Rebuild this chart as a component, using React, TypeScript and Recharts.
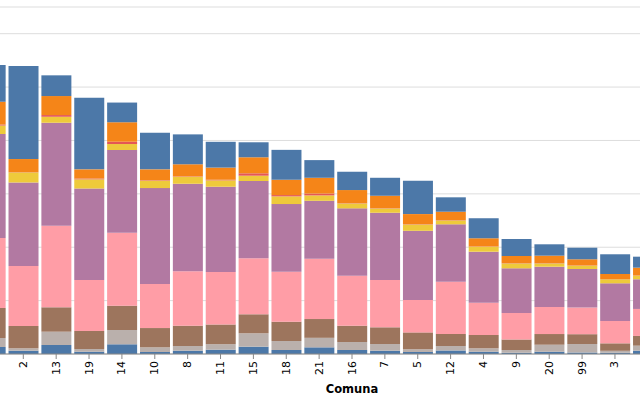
import { BarChart, Bar, XAxis, YAxis, CartesianGrid, Label } from "recharts";

// comunas sorted by total, the outer ones fall outside the 640px frame
const comunas = ["6", "2", "13", "19", "14", "10", "8", "11", "15", "18", "21", "16", "7", "5", "12", "4", "9", "20", "99", "3", "17", "1", "22"];

// stacked categories, read top to bottom in the picture
const cat1 = [687, 1742, 388, 1341, 369, 687, 560, 483, 281, 560, 331, 343, 337, 624, 270, 375, 318, 213, 217, 369, 206, 180, 150];
const cat2 = [427, 243, 356, 172, 365, 202, 227, 228, 300, 287, 296, 243, 230, 187, 155, 154, 131, 137, 116, 94, 146, 120, 100];
const cat3 = [19, 5, 32, 15, 43, 9, 7, 11, 45, 24, 34, 6, 6, 6, 6, 4, 6, 6, 4, 4, 4, 4, 3];
const cat6 = [159, 191, 112, 172, 112, 140, 131, 120, 99, 144, 101, 94, 82, 120, 75, 94, 94, 64, 62, 77, 67, 60, 50];
const cat7 = [1948, 1564, 1929, 1714, 1549, 1798, 1640, 1597, 1448, 1268, 1086, 1262, 1260, 1298, 1075, 955, 837, 755, 721, 706, 556, 520, 430];
const cat8 = [1311, 1124, 1528, 955, 1367, 824, 1019, 983, 1049, 936, 1129, 936, 886, 605, 979, 605, 496, 506, 500, 418, 506, 460, 380];
const cat9 = [562, 418, 457, 337, 455, 361, 380, 369, 356, 361, 352, 305, 313, 316, 225, 249, 197, 200, 184, 140, 182, 170, 140];
const cat10 = [169, 45, 249, 51, 268, 88, 88, 103, 251, 169, 178, 150, 125, 52, 84, 64, 51, 131, 159, 36, 94, 80, 70];
const cat11 = [131, 62, 169, 43, 182, 37, 62, 81, 137, 75, 125, 75, 62, 37, 66, 43, 24, 43, 28, 24, 62, 50, 40];

const yTicks = [0, 1000, 2000, 3000, 4000, 5000, 6000, 6500];

// bottom of the stack first
const series = [
  { key: "cat11", color: "#4c78a8" },
  { key: "cat10", color: "#bab0ac" },
  { key: "cat9", color: "#9d755d" },
  { key: "cat8", color: "#ff9da6" },
  { key: "cat7", color: "#b279a2" },
  { key: "cat6", color: "#eeca3b" },
  { key: "cat3", color: "#e45756" },
  { key: "cat2", color: "#f58518" },
  { key: "cat1", color: "#4c78a8" },
];

const data = comunas.map((comuna, i) => ({
  comuna,
  cat1: cat1[i],
  cat2: cat2[i],
  cat3: cat3[i],
  cat6: cat6[i],
  cat7: cat7[i],
  cat8: cat8[i],
  cat9: cat9[i],
  cat10: cat10[i],
  cat11: cat11[i],
}));

const FONT = "DejaVu Sans, sans-serif";
const SHIFT = 86; // chart is pushed left so the y axis sits outside the frame

function RotatedTick(props: any) {
  const { x, y, payload } = props;
  const sx = x - SHIFT;
  // labels of the cropped bars are outside the frame anyway
  if (sx < 0 || sx > 640) return <g />;
  return (
    <text
      x={x}
      y={y}
      transform={`rotate(-90, ${x}, ${y})`}
      textAnchor="end"
      dominantBaseline="central"
      fontSize={11}
      fontFamily={FONT}
      fill="#000"
    >
      {payload.value}
    </text>
  );
}

// y labels are cropped out of the frame, only the grid is kept
const NoTick = () => <g />;

export default function App() {
  return (
    <div
      style={{
        position: "fixed",
        left: 0,
        top: 0,
        width: 640,
        height: 400,
        overflow: "hidden",
        background: "#fff",
      }}
    >
      <div style={{ position: "absolute", left: -SHIFT, top: 0 }}>
        <BarChart
          width={816}
          height={400}
          data={data}
          margin={{ top: 7, right: 0, bottom: 0, left: 0 }}
          barCategoryGap="5%"
        >
          <CartesianGrid vertical={false} stroke="#ddd" />
          <XAxis
            dataKey="comuna"
            interval={0}
            height={46}
            tickSize={5}
            tickMargin={2}
            stroke="#888"
            tick={<RotatedTick />}
          >
            <Label
              value="Comuna"
              position="insideBottom"
              offset={7}
              style={{ fontFamily: FONT, fontSize: 11.5, fontWeight: "bold", fill: "#000" }}
            />
          </XAxis>
          <YAxis
            type="number"
            domain={[0, 6500]}
            ticks={yTicks}
            width={60}
            tick={<NoTick />}
            axisLine={false}
            tickLine={false}
          />
          {series.map((s) => (
            <Bar key={s.key} dataKey={s.key} stackId="a" fill={s.color} isAnimationActive={false} />
          ))}
        </BarChart>
      </div>
    </div>
  );
}
